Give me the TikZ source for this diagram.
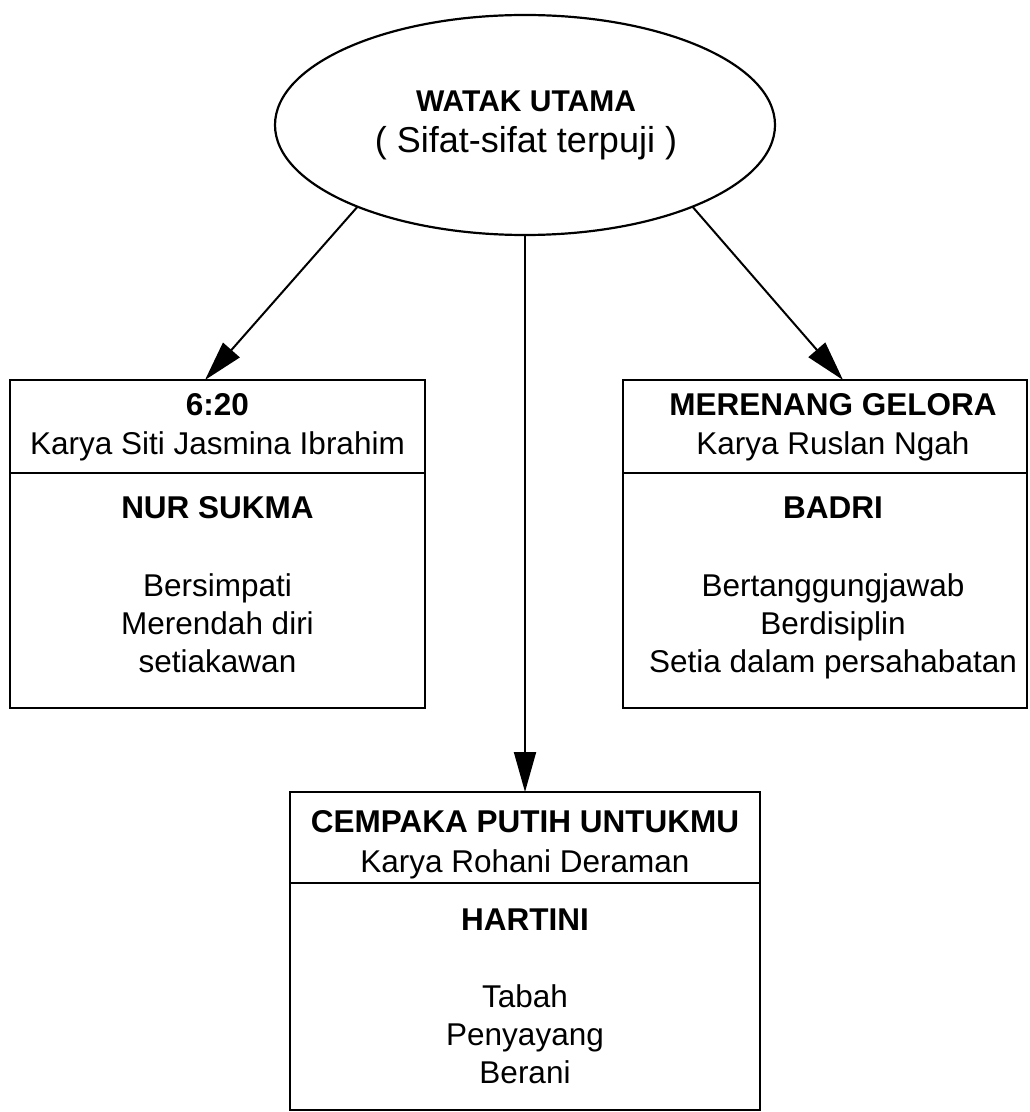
\documentclass[tikz,border=0pt]{standalone}
\usepackage{fontspec}
\setmainfont{Liberation Sans}
\usetikzlibrary{shapes.geometric,arrows.meta}
\begin{document}
\begin{tikzpicture}[x=0.5pt,y=-0.5pt,
  every node/.style={inner sep=0pt,outer sep=0pt},
  txt/.style={anchor=base,font=\fontsize{15.75pt}{18pt}\selectfont},
  btxt/.style={anchor=base,font=\fontsize{15.75pt}{18pt}\selectfont\bfseries},
  boxline/.style={line width=1.3pt},
  boxnode/.style={draw,boxline,rectangle,anchor=north west},
  arr/.style={line width=1pt,-{Triangle[length=20pt,width=11pt]}},
]
\useasboundingbox (0,0) rectangle (1029,1112);
% ellipse
\node[ellipse,draw,line width=1.1pt,minimum width=250pt,minimum height=110pt] (ell) at (525,125) {};
\node[btxt,font=\fontsize{15pt}{18pt}\selectfont\bfseries] (e1) at (526,112) {WATAK UTAMA};
\node[txt,font=\fontsize{18pt}{20pt}\selectfont] (e2) at (526,153) {( Sifat-sifat terpuji )};
% boxes
\node[boxnode,minimum width=207.5pt,minimum height=164pt] (lbox) at (10,380) {};
\node[boxnode,minimum width=202pt,minimum height=164pt] (rbox) at (623,380) {};
\node[boxnode,minimum width=235pt,minimum height=159pt] (bbox) at (290,792) {};
% dividers
\coordinate (ldiv) at (0,473);
\coordinate (bdiv) at (0,883);
\draw[boxline] (lbox.west |- ldiv) -- (lbox.east |- ldiv);
\draw[boxline] (rbox.west |- ldiv) -- (rbox.east |- ldiv);
\draw[boxline] (bbox.west |- bdiv) -- (bbox.east |- bdiv);
% left box texts
\node[btxt] (l1) at (217.5,415) {6:20};
\node[txt]  (l2) at (217.5,454) {Karya Siti Jasmina Ibrahim};
\node[btxt] (l3) at (217.5,518) {NUR SUKMA};
\node[txt]  (l4) at (217.5,596) {Bersimpati};
\node[txt]  (l5) at (217.5,634) {Merendah diri};
\node[txt]  (l6) at (217.5,672) {setiakawan};
% right box texts
\node[btxt] (r1) at (833,415) {MERENANG GELORA};
\node[txt]  (r2) at (833,454) {Karya Ruslan Ngah};
\node[btxt] (r3) at (833,518) {BADRI};
\node[txt]  (r4) at (833,596) {Bertanggungjawab};
\node[txt]  (r5) at (833,634) {Berdisiplin};
\node[txt]  (r6) at (833,672) {Setia dalam persahabatan};
% bottom box texts
\node[btxt] (b1) at (525,832) {CEMPAKA PUTIH UNTUKMU};
\node[txt]  (b2) at (525,872) {Karya Rohani Deraman};
\node[btxt] (b3) at (525,930) {HARTINI};
\node[txt]  (b4) at (525,1007) {Tabah};
\node[txt]  (b5) at (525,1045) {Penyayang};
\node[txt]  (b6) at (525,1083) {Berani};
% arrows
\draw[arr] (ell.206) -- ([xshift=-6.25pt]lbox.north);
\draw[arr] (ell.334) -- ([xshift=9pt]rbox.north);
\draw[arr] (ell.south) -- (bbox.north);
\end{tikzpicture}
\end{document}
